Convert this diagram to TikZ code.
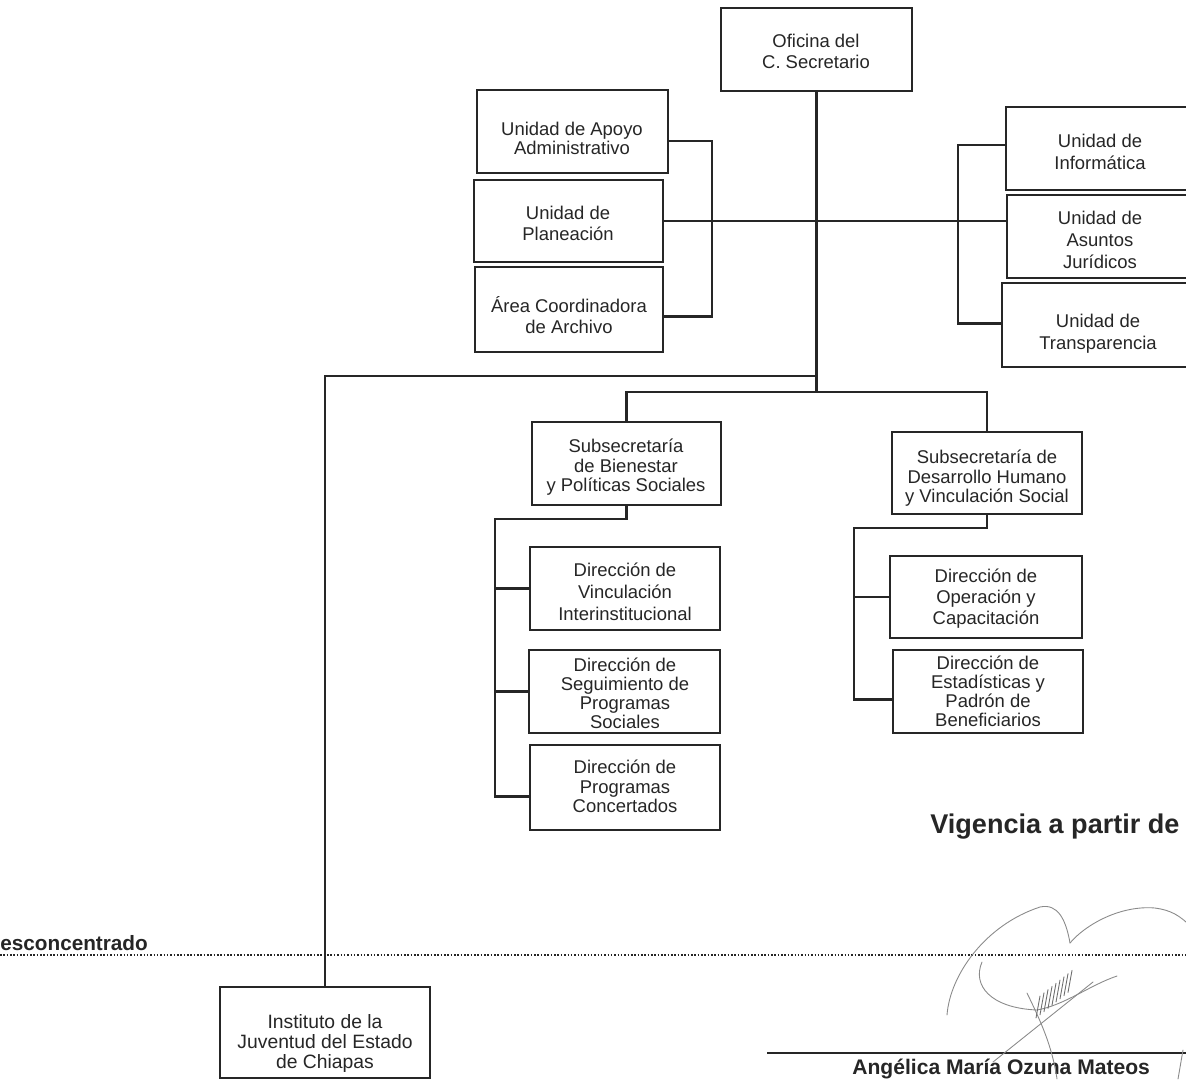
\documentclass[tikz,border=0pt]{standalone}
\usepackage{fontspec}
\setmainfont{Liberation Sans}
\usetikzlibrary{fit}
\definecolor{ink}{HTML}{262626}
\definecolor{sigcol}{HTML}{8A8A8A}
% centred block of lines; #1 = line spacing
\newcommand\orglines[2]{{\fontsize{10.5}{#1}\selectfont\begin{tabular}{@{}c@{}}#2\end{tabular}}}
\begin{document}
\begin{tikzpicture}[x=0.02cm,y=-0.02cm,
  frame/.style={draw=ink, line width=1.6pt, inner sep=0pt},
  txt/.style={inner sep=0pt, text=ink, yshift=-1.8pt},
  conn/.style={draw=ink, line width=1.5pt},
  boldtxt/.style={inner sep=0pt, anchor=base west, text=ink, font=\bfseries},
  sig/.style={draw=sigcol, line width=0.5pt, line cap=round}
]
\useasboundingbox (0,0) rectangle (1186,1079);
\clip (0,0) rectangle (1186,1079);
\fill[white] (0,0) rectangle (1186,1079);

% ---------- frames ----------
\node[frame, fit={(721,8) (912,91)}] (ofi) {};
\node[frame, fit={(477,90) (668,173)}] (apoyo) {};
\node[frame, fit={(474,180) (663,262)}] (plan) {};
\node[frame, fit={(475,267) (663,352)}] (archivo) {};
\node[frame, fit={(1006,107) (1195,190)}] (info) {};
\node[frame, fit={(1007,195) (1195,278)}] (jur) {};
\node[frame, fit={(1002,283) (1195,367)}] (trans) {};
\node[frame, fit={(532,422) (721,505)}] (bien) {};
\node[frame, fit={(892,432) (1082,514)}] (desa) {};
\node[frame, fit={(530,547) (720,630)}] (vinc) {};
\node[frame, fit={(529,650) (720,733)}] (segu) {};
\node[frame, fit={(530,745) (720,830)}] (conc) {};
\node[frame, fit={(890,556) (1082,638)}] (oper) {};
\node[frame, fit={(893,650) (1083,733)}] (esta) {};
\node[frame, fit={(220,987) (430,1078)}] (inst) {};

% ---------- labels ----------
\node[txt] (ofi-t) at (816,50.5) {\orglines{12.3}{Oficina del\\C. Secretario}};
\node[txt] (apoyo-t) at (572,137.5) {\orglines{10.6}{Unidad de Apoyo\\Administrativo}};
\node[txt] (plan-t) at (568,222.5) {\orglines{12.3}{Unidad de\\Planeación}};
\node[txt] (archivo-t) at (569,315) {\orglines{12.3}{Área Coordinadora\\de Archivo}};
\node[txt] (info-t) at (1100,151) {\orglines{12.3}{Unidad de\\Informática}};
\node[txt] (jur-t) at (1100,239) {\orglines{12.3}{Unidad de\\Asuntos\\Jurídicos}};
\node[txt] (trans-t) at (1098,331) {\orglines{12.3}{Unidad de\\Transparencia}};
\node[txt] (bien-t) at (626,465) {\orglines{10.9}{Subsecretaría\\de Bienestar\\y Políticas Sociales}};
\node[txt] (desa-t) at (987,476) {\orglines{10.8}{Subsecretaría de\\Desarrollo Humano\\y Vinculación Social}};
\node[txt] (vinc-t) at (625,591) {\orglines{12.3}{Dirección de\\Vinculación\\Interinstitucional}};
\node[txt] (segu-t) at (625,693) {\orglines{10.7}{Dirección de\\Seguimiento de\\Programas\\Sociales}};
\node[txt] (conc-t) at (625,786) {\orglines{11.1}{Dirección de\\Programas\\Concertados}};
\node[txt] (oper-t) at (986,596) {\orglines{12}{Dirección de\\Operación y\\Capacitación}};
\node[txt] (esta-t) at (988,691) {\orglines{10.8}{Dirección de\\Estadísticas y\\Padrón de\\Beneficiarios}};
\node[txt] (inst-t) at (325,1041) {{\fontsize{11}{11.4}\selectfont\begin{tabular}{@{}c@{}}Instituto de la\\Juventud del Estado\\de Chiapas\end{tabular}}};

% ---------- junction coordinates ----------
\coordinate (lb) at (712,222);
\coordinate (rb) at (958,222);
\coordinate (jl) at (ofi.south |- 0,376);
\coordinate (jb) at (ofi.south |- 0,392);
\coordinate (lb2) at (495,519);
\coordinate (rb2) at (854,528);

% ---------- connectors ----------
\draw[conn] (ofi.south) -- (jb);
\draw[conn] (plan.east) -- (jur.west |- plan.east);
\draw[conn] ([yshift=-5.5pt]apoyo.east) -| (lb) |- ([yshift=-4pt]archivo.east);
\draw[conn] ([yshift=2pt]info.west) -| (rb) |- ([yshift=1pt]trans.west);
\draw[conn] (jl) -| (inst.north);
\draw[conn] (bien.north) -- (bien.north |- jb) -- (desa.north |- jb) -- (desa.north);
\draw[conn] (bien.south) |- (lb2) |- ([yshift=-5pt]conc.west);
\draw[conn] (lb2 |- vinc.west) -- (vinc.west);
\draw[conn] (lb2 |- segu.west) -- (segu.west);
\draw[conn] (desa.south) |- (rb2) |- ([yshift=-4.5pt]esta.west);
\draw[conn] (rb2 |- oper.west) -- (oper.west);

% ---------- dotted separator ----------
\coordinate (dl) at (0,955);
\coordinate (dr) at (1186,955);
\draw[draw=ink, line width=1.2pt, dash pattern=on 0.9pt off 1pt] (dl) -- (dr);

% ---------- free texts ----------
\node[boldtxt, font=\bfseries\fontsize{11.8}{13}\selectfont] (desc) at (0,950) {esconcentrado};
\node[boldtxt, font=\bfseries\fontsize{15.4}{18}\selectfont] (vig) at (930,833) {Vigencia a partir de};

% ---------- signature line and name ----------
\coordinate (sl) at (767,1053);
\coordinate (sr) at (1186,1053);
\draw[draw=ink, line width=1.2pt] (sl) -- (sr);
\node[boldtxt, font=\bfseries\fontsize{12}{14}\selectfont] (firma) at (852,1074) {Angélica María Ozuna Mateos};

% ---------- handwritten signature ----------
\draw[sig] (947,1015) .. controls (950,975) and (985,925) .. (1040,907) .. controls (1058,903) and (1066,920) .. (1070,943);
\draw[sig] (1070,943) .. controls (1085,925) and (1120,905) .. (1155,908) .. controls (1170,910) and (1180,915) .. (1192,928);
\draw[sig] (982,962) .. controls (972,985) and (990,1008) .. (1037,1010) .. controls (1065,1005) and (1090,985) .. (1117,976);
\draw[sig] (993,1062) -- (1093,982);
\draw[sig] (1027,993) .. controls (1040,1020) and (1052,1045) .. (1057,1079);
\draw[sig] (1183,1050) -- (1178,1079);
\foreach \i in {0,...,8}
  \draw[sig, draw=sigcol!80!black] (1036+4*\i,1018-3.2*\i) -- (1040+4*\i,996-3.2*\i);
\end{tikzpicture}
\end{document}
